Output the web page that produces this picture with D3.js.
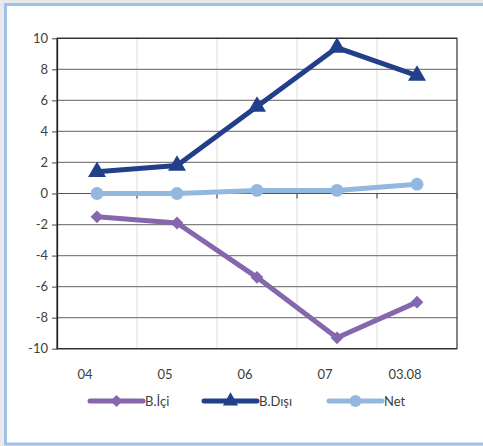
<!DOCTYPE html>
<html>
<head>
<meta charset="utf-8">
<script src="https://cdn.jsdelivr.net/npm/d3@7"></script>
<style>
  html, body { margin: 0; padding: 0; background: #e9e9ea; }
  svg { display: block; }
</style>
</head>
<body>
<script>
// Categories (x axis) and the three series
const categories = ["04", "05", "06", "07", "03.08"];
const bIci  = [-1.5, -1.9, -5.4, -9.3, -7.0];
const bDisi = [1.4, 1.8, 5.6, 9.4, 7.6];
const net   = [0.0, 0.0, 0.2, 0.2, 0.6];
const yTicks = [-10, -8, -6, -4, -2, 0, 2, 4, 6, 8, 10];

const seriesNames = ["B.İçi", "B.Dışı", "Net"];
const seriesColors = ["#8467ac", "#223f8a", "#93b8e0"];
// Diamond is drawn as a square turned 45 degrees
const seriesShapes = [d3.symbolSquare, d3.symbolTriangle, d3.symbolCircle];
const seriesRotate = [45, 0, 0];
const seriesValues = [bIci, bDisi, net];

const W = 483, H = 446;
const svg = d3.select("body").append("svg").attr("width", W).attr("height", H);

// Frame
svg.append("rect").attr("x", 5.5).attr("y", 4.5).attr("width", W + 10).attr("height", H - 6.5)
  .attr("fill", "#fff").attr("stroke", "#9ec1e8").attr("stroke-width", 3);

const x0 = 57, x1 = 457, yTop = 38.3, yBot = 348.7;
const x = d3.scaleBand().domain(categories).range([x0, x1]);
const y = d3.scaleLinear().domain([-10, 10]).range([yBot, yTop]);
const font = "Lato, 'DejaVu Sans', sans-serif";

const g = svg.append("g");

// Vertical gridlines at band edges
g.selectAll("line.vg").data(categories.slice(1)).join("line")
  .attr("x1", d => x(d)).attr("x2", d => x(d))
  .attr("y1", yTop).attr("y2", yBot)
  .attr("stroke", "#dcdcdc").attr("stroke-width", 1);

// Horizontal gridlines
g.selectAll("line.hg").data(yTicks).join("line")
  .attr("x1", x0).attr("x2", x1)
  .attr("y1", d => y(d)).attr("y2", d => y(d))
  .attr("stroke", d => (d === 10 || d === -10) ? "#222" : "#808080")
  .attr("stroke-width", 1.2);

// Plot border
g.append("rect").attr("x", x0).attr("y", yTop).attr("width", x1 - x0).attr("height", yBot - yTop)
  .attr("fill", "none").attr("stroke", "#333").attr("stroke-width", 1.2);

// Y axis (plain hyphen-minus labels)
const yAxis = d3.axisLeft(y).tickValues(yTicks).tickFormat(d => String(d))
  .tickSize(5).tickSizeOuter(0).tickPadding(4);
const ya = svg.append("g").attr("transform", `translate(${x0},0)`).call(yAxis);
ya.select(".domain").attr("stroke", "#222").attr("stroke-width", 1.3);
ya.selectAll(".tick line").attr("stroke", "#444");
ya.selectAll("text").attr("font-family", font).attr("font-size", 13).attr("fill", "#404040");

// Zero line with tick marks at band boundaries
svg.append("line").attr("x1", x0).attr("x2", x1).attr("y1", y(0)).attr("y2", y(0))
  .attr("stroke", "#555").attr("stroke-width", 1.2);
svg.selectAll("line.zt").data(categories.slice(1).map(c => x(c)).concat([x1]))
  .join("line").attr("x1", d => d).attr("x2", d => d)
  .attr("y1", y(0)).attr("y2", y(0) + 5).attr("stroke", "#555").attr("stroke-width", 1.2);

// X category labels
svg.selectAll("text.xl").data(categories).join("text")
  .attr("x", d => x(d) + x.bandwidth() / 2 - 12)
  .attr("y", 379)
  .attr("text-anchor", "middle")
  .attr("font-family", font).attr("font-size", 13).attr("fill", "#404040")
  .text(d => d);

// Series lines and markers
const cx = d => x(d) + x.bandwidth() / 2;
seriesValues.forEach((vals, i) => {
  const pts = categories.map((c, j) => [cx(c), y(vals[j])]);
  svg.append("path").attr("d", d3.line()(pts))
    .attr("fill", "none").attr("stroke", seriesColors[i]).attr("stroke-width", 5)
    .attr("stroke-linejoin", "round");
  const size = i === 2 ? 130 : (i === 1 ? 140 : 82);
  svg.selectAll(null).data(pts).join("path")
    .attr("transform", d => `translate(${d[0]},${d[1]}) rotate(${seriesRotate[i]})`)
    .attr("d", d3.symbol().type(seriesShapes[i]).size(size))
    .attr("fill", seriesColors[i]);
});

// Legend
const legendX = [90, 204, 329];
const ly = 401;
seriesNames.forEach((name, i) => {
  const lg = svg.append("g").attr("transform", `translate(${legendX[i]},${ly})`);
  lg.append("line").attr("x1", 0).attr("x2", 53).attr("y1", 0).attr("y2", 0)
    .attr("stroke", seriesColors[i]).attr("stroke-width", 5).attr("stroke-linecap", "round");
  lg.append("path").attr("transform", `translate(26.5,0) rotate(${seriesRotate[i]})`)
    .attr("d", d3.symbol().type(seriesShapes[i]).size(i === 2 ? 110 : (i === 1 ? 100 : 72)))
    .attr("fill", seriesColors[i]);
  lg.append("text").attr("x", 55).attr("y", 5)
    .attr("font-family", font).attr("font-size", 13).attr("fill", "#404040")
    .text(name);
});
</script>
</body>
</html>
